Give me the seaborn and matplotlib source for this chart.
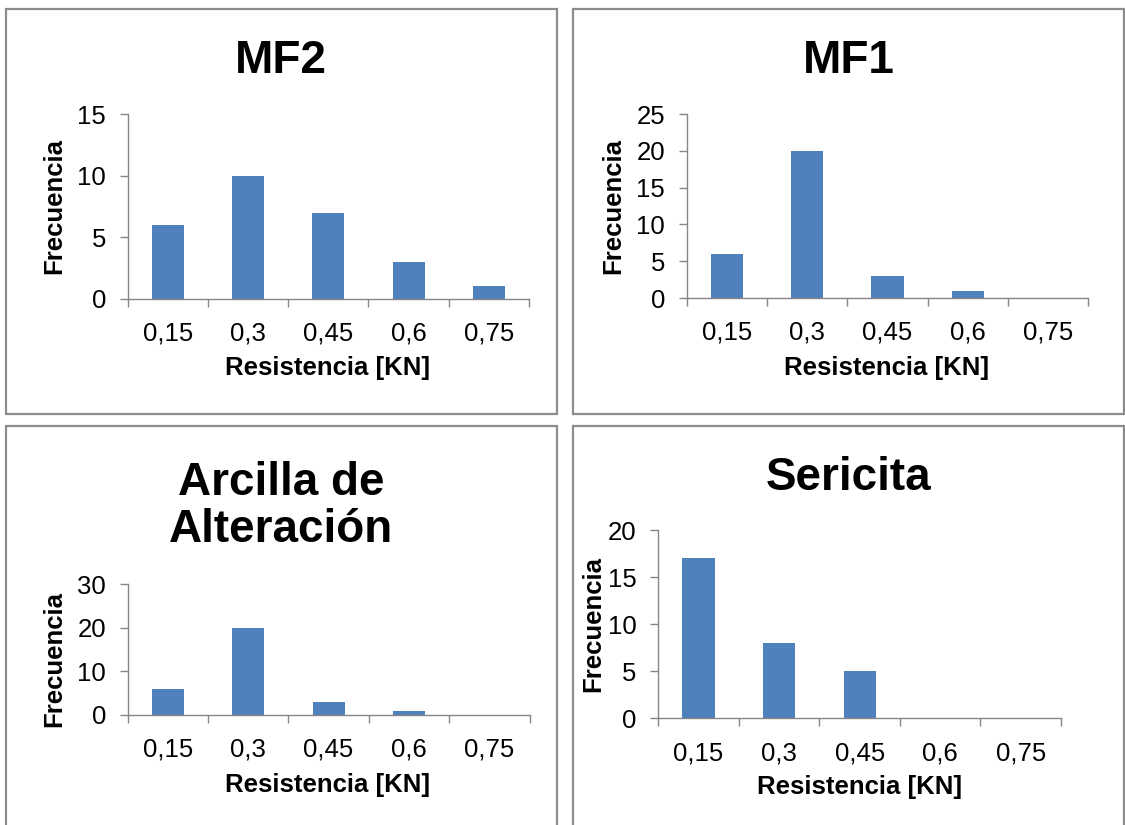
import numpy as np
import pandas as pd
import matplotlib
matplotlib.use("Agg")
import matplotlib.pyplot as plt
from matplotlib.patches import Rectangle
from matplotlib.ticker import FixedLocator, NullFormatter
import seaborn as sns

# ---------------- data ----------------
categories = ["0,15", "0,3", "0,45", "0,6", "0,75"]
titles = ["MF2", "MF1", "Arcilla de\nAlteración", "Sericita"]
mf2 = [6, 10, 7, 3, 1]
mf1 = [6, 20, 3, 1, 0]
arcilla = [6, 20, 3, 1, 0]
sericita = [17, 8, 5, 0, 0]
series = [mf2, mf1, arcilla, sericita]
y_max = [15, 25, 30, 20]
y_step = [5, 5, 10, 5]
x_label = "Resistencia [KN]"
y_label = "Frecuencia"

# ---------------- style ----------------
W, H = 1125, 825
sns.set_theme(style="white")
plt.rcParams['font.family'] = ['Liberation Sans', 'DejaVu Sans']
plt.rcParams['text.color'] = 'black'
plt.rcParams['axes.labelcolor'] = 'black'
plt.rcParams['xtick.color'] = 'black'
plt.rcParams['ytick.color'] = 'black'

BAR = "#4F81BD"
AXC = "#868686"
BORDER = "#8c8c8c"

fig = plt.figure(figsize=(W / 100, H / 100), dpi=100)
fig.patch.set_facecolor("white")

# layout in pixels (left, top, right, bottom)
panels = [(6, 9, 556.7, 413.5), (573.3, 9, 1124, 414),
          (6, 425.7, 556.7, 860), (573.3, 425.7, 1124, 860)]
axes_px = [(127.7, 114.3, 529, 298.5), (686.7, 114, 1088.3, 298),
           (127.7, 584.3, 529.5, 715), (658.3, 530, 1061, 718.3)]
title_base = [73, 73, 542, 490]
ylab_pos = [(54, 206), (613, 206), (54, 659), (593, 624)]
xlab_pos = [(328, 368), (887, 368), (328, 785), (860, 787)]


def fx(x):
    return x / W


def fy(y):
    return 1 - y / H


for i in range(4):
    l, t, r, b = panels[i]
    fig.patches.append(Rectangle((fx(l), fy(b)), fx(r) - fx(l), fy(t) - fy(b),
                                 transform=fig.transFigure, fill=False,
                                 edgecolor=BORDER, lw=1.6, zorder=0))
    al, at, ar, ab = axes_px[i]
    ax = fig.add_axes([fx(al), fy(ab), fx(ar) - fx(al), fy(at) - fy(ab)])
    df = pd.DataFrame({"Resistencia": categories, "Frecuencia": series[i]})
    sns.barplot(data=df, x="Resistencia", y="Frecuencia", order=categories,
                color=BAR, saturation=1, width=0.4, ax=ax, linewidth=0,
                edgecolor="none")
    ax.set_facecolor("none")
    ax.set_xlim(-0.5, 4.5)
    ax.set_ylim(0, y_max[i])
    ax.set_yticks(np.arange(0, y_max[i] + 1, y_step[i]))

    # tick marks at category boundaries, labels at centres
    ax.xaxis.set_major_locator(FixedLocator(np.arange(-0.5, 5.0, 1.0)))
    ax.xaxis.set_major_formatter(NullFormatter())
    ax.xaxis.set_minor_locator(FixedLocator(np.arange(0, 5)))
    ax.set_xticklabels(categories, minor=True)
    ax.tick_params(axis="x", which="major", direction="out", length=6,
                   width=1.0, color=AXC, bottom=True)
    ax.tick_params(axis="x", which="minor", length=0, pad=16.5, labelsize=18.5,
                   labelcolor="black", bottom=True)
    ax.tick_params(axis="y", which="major", direction="out", length=6,
                   width=1.0, color=AXC, pad=9.5, labelsize=18.5,
                   labelcolor="black", left=True)

    for s in ["top", "right"]:
        ax.spines[s].set_visible(False)
    for s in ["left", "bottom"]:
        ax.spines[s].set_visible(True)
        ax.spines[s].set_color(AXC)
        ax.spines[s].set_linewidth(1.0)
    ax.grid(False)

    ax.set_xlabel(x_label, fontsize=18.5, fontweight="bold", va="center",
                  color="black")
    ax.set_ylabel(y_label, fontsize=18.5, fontweight="bold", va="center",
                  color="black")
    ax.xaxis.set_label_coords(fx(xlab_pos[i][0]), fy(xlab_pos[i][1]),
                              transform=fig.transFigure)
    ax.yaxis.set_label_coords(fx(ylab_pos[i][0]), fy(ylab_pos[i][1]),
                              transform=fig.transFigure)

    cx = (l + r) / 2
    fig.text(fx(cx), fy(title_base[i]), titles[i], fontsize=33,
             fontweight="bold", ha="center", va="baseline", color="black",
             multialignment="center", linespacing=1.1)

fig.savefig("out.png", dpi=100, facecolor="white")
